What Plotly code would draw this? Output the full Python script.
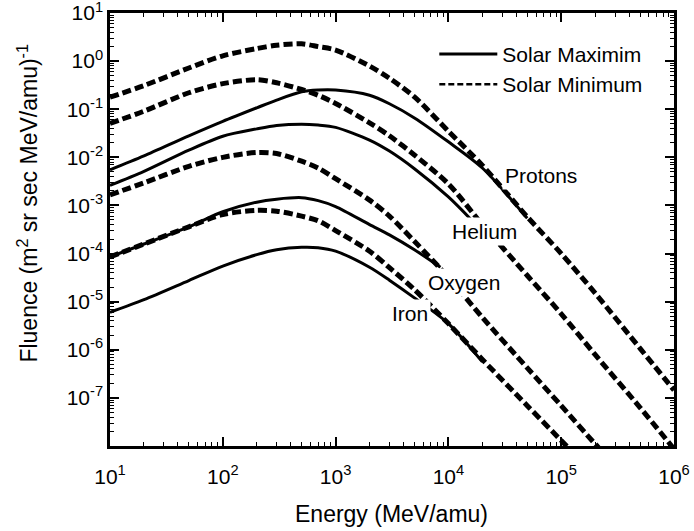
import math
import plotly.graph_objects as go

# energy grid (MeV/amu)
energy = [10, 20, 50, 100, 200, 300, 500, 700, 1000, 2000, 3000, 5000,
          10000, 20000, 50000, 100000, 200000, 500000, 1000000]

# fluence, (m^2 sr sec MeV/amu)^-1
protons_min = [0.178, 0.31, 0.72, 1.29, 1.82, 2.14, 2.29, 2.0, 1.7, 0.79, 0.44, 0.18,
               0.035, 6.8e-3, 5.8e-4, 1.0e-4, 1.5e-5, 1.07e-6, 1.45e-7]
protons_max = [5.5e-3, 0.0107, 0.028, 0.056, 0.107, 0.155, 0.23, 0.25, 0.25, 0.195,
               0.13, 0.066, 0.021, 6.0e-3, 5.4e-4]

helium_min = [0.051, 0.091, 0.22, 0.34, 0.41, 0.355, 0.257, 0.195, 0.132, 0.052, 0.028,
              0.0112, 2.8e-3, 4.0e-4, 3.5e-5, 5.6e-6, 7.9e-7, 6.3e-8, 8.7e-9]
helium_max_energy = [10, 20, 50, 100, 200, 300, 500, 700, 1000, 2000, 3000, 5000, 10000, 16000]
helium_max = [2.6e-3, 5.1e-3, 0.0141, 0.0275, 0.039, 0.046, 0.049, 0.047, 0.042, 0.0229,
              0.0135, 5.8e-3, 1.5e-3, 5.0e-4]

oxygen_min_energy = [10, 20, 50, 100, 200, 300, 500, 700, 1000, 2000, 3000, 5000,
                     10000, 20000, 50000, 100000, 200000, 250000]
oxygen_min = [1.66e-3, 2.95e-3, 6.5e-3, 0.01, 0.0126, 0.012, 8.3e-3, 6.0e-3, 3.6e-3,
              1.29e-3, 6.0e-4, 1.8e-4, 3.2e-5, 4.7e-6, 4.2e-7, 6.9e-8, 1.1e-8, 6.3e-9]
oxygen_max_energy = [10, 20, 50, 100, 200, 300, 500, 700, 1000, 2000, 3000, 5000, 8500]
oxygen_max = [8.5e-5, 1.58e-4, 3.6e-4, 7.4e-4, 1.17e-3, 1.35e-3, 1.45e-3, 1.26e-3,
              9.5e-4, 4.0e-4, 2.45e-4, 1.2e-4, 5.2e-5]

iron_min_energy = [10, 20, 50, 100, 200, 300, 500, 700, 1000, 2000, 3000, 5000,
                   10000, 20000, 50000, 100000, 126000]
iron_min = [8.5e-5, 1.58e-4, 3.6e-4, 6.5e-4, 7.9e-4, 7.6e-4, 6.0e-4, 4.8e-4, 3.0e-4,
            1.12e-4, 5.1e-5, 1.78e-5, 3.5e-6, 6.3e-7, 6.9e-8, 1.3e-8, 7.4e-9]
iron_max = [6.0e-6, 1.1e-5, 2.75e-5, 5.5e-5, 9.5e-5, 1.2e-4, 1.35e-4, 1.32e-4, 1.12e-4,
            5.2e-5, 2.8e-5, 1.2e-5, 3.5e-6, 5.6e-7]

# species labels placed on the curves
label_text = ["Protons", "Helium", "Oxygen", "Iron"]
label_energy = [66200, 20900, 13700, 4570]
label_fluence = [4.1e-3, 2.86e-4, 2.55e-5, 5.7e-6]

x_tickvals = [1e1, 1e2, 1e3, 1e4, 1e5, 1e6]
x_ticktext = ["10<sup>1</sup>", "10<sup>2</sup>", "10<sup>3</sup>",
              "10<sup>4</sup>", "10<sup>5</sup>", "10<sup>6</sup>"]
y_tickvals = [1e1, 1e0, 1e-1, 1e-2, 1e-3, 1e-4, 1e-5, 1e-6, 1e-7]
y_ticktext = ["10<sup>1</sup>", "10<sup>0</sup>", "10<sup>-1</sup>", "10<sup>-2</sup>",
              "10<sup>-3</sup>", "10<sup>-4</sup>", "10<sup>-5</sup>", "10<sup>-6</sup>",
              "10<sup>-7</sup>"]

FONT = "Liberation Sans, Arial, Helvetica, sans-serif"
SOLID = dict(color="black", width=3, shape="spline", smoothing=0.8)
DASHED = dict(color="black", width=5, dash="9px,4px", shape="spline", smoothing=0.8)

fig = go.Figure()

# solar maximum (solid) underneath
for xs, ys in [(energy[:len(protons_max)], protons_max),
               (helium_max_energy, helium_max),
               (oxygen_max_energy, oxygen_max),
               (energy[:len(iron_max)], iron_max)]:
    fig.add_trace(go.Scatter(x=xs, y=ys, mode="lines", line=SOLID,
                             showlegend=False, hoverinfo="skip"))

# solar minimum (dashed) on top
for xs, ys in [(energy, protons_min),
               (energy, helium_min),
               (oxygen_min_energy, oxygen_min),
               (iron_min_energy, iron_min)]:
    fig.add_trace(go.Scatter(x=xs, y=ys, mode="lines", line=DASHED,
                             showlegend=False, hoverinfo="skip"))

# legend entries
fig.add_trace(go.Scatter(x=[None], y=[None], mode="lines", name="Solar Maximim",
                         line=dict(color="black", width=3)))
fig.add_trace(go.Scatter(x=[None], y=[None], mode="lines", name="Solar Minimum",
                         line=dict(color="black", width=2.5, dash="6px,3px")))

for t, e, f in zip(label_text, label_energy, label_fluence):
    fig.add_annotation(x=math.log10(e), y=math.log10(f), text=t, showarrow=False,
                       font=dict(size=21, color="black", family=FONT),
                       bgcolor="white", borderpad=2)

# minor tick positions (2..9 within each decade)
x_minor = [m * 10 ** d for d in range(1, 6) for m in range(2, 10)]
y_minor = [m * 10.0 ** d for d in range(-8, 1) for m in range(2, 10)]

fig.update_layout(
    width=694, height=531,
    margin=dict(l=110, r=20, t=13, b=85),
    plot_bgcolor="white", paper_bgcolor="white",
    font=dict(family=FONT, color="black"),
    legend=dict(x=0.575, y=0.952, xanchor="left", yanchor="top",
                bgcolor="rgba(0,0,0,0)", font=dict(size=21, family=FONT),
                itemwidth=58, tracegroupgap=0),
)
fig.update_xaxes(type="log", range=[1, 6], tickmode="array",
                 tickvals=x_tickvals, ticktext=x_ticktext, ticklabelstandoff=10)
fig.update_yaxes(type="log", range=[-8, 1], tickmode="array",
                 tickvals=y_tickvals, ticktext=y_ticktext)
fig.update_xaxes(minor=dict(tickmode="array", tickvals=x_minor))
fig.update_yaxes(minor=dict(tickmode="array", tickvals=y_minor))
# box frame, inside ticks mirrored on all four sides
fig.update_xaxes(showline=True, linecolor="black", linewidth=2.5, mirror="allticks",
                 ticks="inside", ticklen=9, tickwidth=1.5, tickcolor="black",
                 showgrid=False, zeroline=False, automargin=False,
                 ticklabeloverflow="allow",
                 tickfont=dict(size=21, color="black", family=FONT),
                 minor_ticks="inside", minor_ticklen=4.5, minor_tickwidth=1,
                 minor_tickcolor="black", minor_showgrid=False)
fig.update_yaxes(showline=True, linecolor="black", linewidth=2.5, mirror="allticks",
                 ticks="inside", ticklen=9, tickwidth=1.5, tickcolor="black",
                 showgrid=False, zeroline=False, automargin=False,
                 ticklabeloverflow="allow",
                 tickfont=dict(size=21, color="black", family=FONT),
                 minor_ticks="inside", minor_ticklen=4.5, minor_tickwidth=1,
                 minor_tickcolor="black", minor_showgrid=False)

# axis titles
fig.add_annotation(text="Energy (MeV/amu)", xref="paper", yref="paper",
                   x=0.499, y=-0.157, xanchor="center", yanchor="middle",
                   showarrow=False, font=dict(size=23, family=FONT, color="black"))
fig.add_annotation(text="Fluence (m<sup>2</sup> sr sec MeV/amu)<sup>-1</sup>",
                   xref="paper", yref="paper", x=-0.147, y=0.56, textangle=-90,
                   xanchor="center", yanchor="middle",
                   showarrow=False, font=dict(size=23, family=FONT, color="black"))

# the page's default 8px body margin would shift the whole figure
fig.write_html("out.html", config={"displayModeBar": False},
               post_script="document.body.style.margin = '0px';")
